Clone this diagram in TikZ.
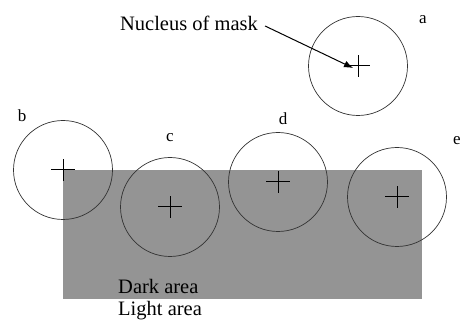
\documentclass[tikz,border=0pt]{standalone}
\usepackage{fontspec}
\setmainfont{Liberation Serif}
\newfontfamily\tnr{Liberation Serif}
\usetikzlibrary{arrows.meta}
\begin{document}
\begin{tikzpicture}[x=1pt,y=-1pt,
  mask/.style={circle,draw=black!80,line width=0.7pt,minimum size=99pt,inner sep=0pt},
  crossmark/.style={line width=1pt,black},
  lbl/.style={font=\tnr\fontsize{17}{17}\selectfont,inner sep=0pt},
  txt/.style={font=\tnr\fontsize{20.5}{20.5}\selectfont,inner sep=0pt}]
\useasboundingbox (0,0) rectangle (468,320);
\fill[black!42] (63,170) rectangle (422,299);
% masks
\node[mask] (ca) at (358,66) {};
\node[mask] (cb) at (63,170) {};
\node[mask] (cc) at (170,207) {};
\node[mask] (cd) at (278,182) {};
\node[mask] (ce) at (397,197) {};
\foreach \n in {ca,cb,cc,cd,ce}{
  \draw[crossmark] ([xshift=-12pt]\n.center) -- ([xshift=12pt]\n.center);
  \draw[crossmark] ([yshift=-11pt]\n.center) -- ([yshift=11pt]\n.center);
}
% labels
\node[lbl] (la) at (423,20) {a};
\node[lbl] (lb) at (22,116) {b};
\node[lbl] (lc) at (170,138) {c};
\node[lbl] (ld) at (283,119) {d};
\node[lbl] (le) at (457,141) {e};
\node[txt] (nuc) at (189,23) {Nucleus of mask};
\draw[-{Latex[length=9pt,width=7pt]},line width=1pt] (nuc.east) ++(7,3) coordinate (s) -- ([xshift=-5pt,yshift=-2pt]ca.center);
\node[txt,anchor=west] (dark) at (118,286) {Dark area};
\node[txt,anchor=west] (light) at (118,311) {Light area};
\end{tikzpicture}
\end{document}
